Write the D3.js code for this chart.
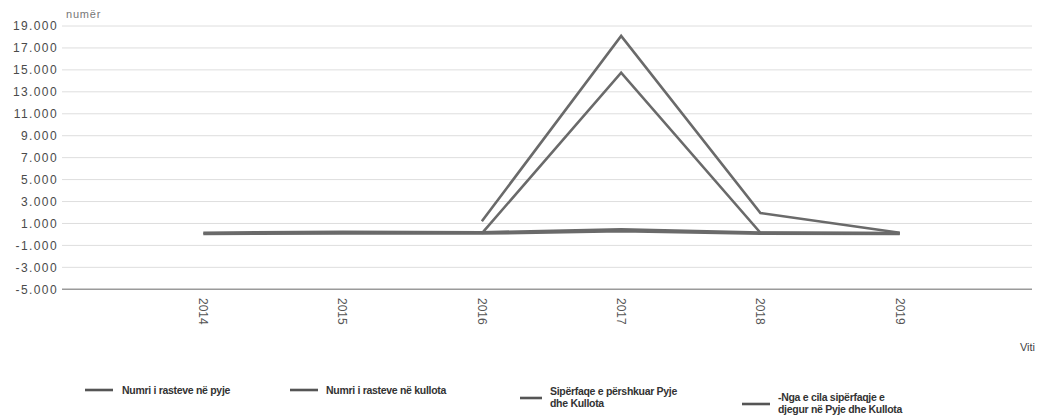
<!DOCTYPE html>
<html><head><meta charset="utf-8">
<script src="https://cdn.jsdelivr.net/npm/d3@7/dist/d3.min.js"></script>
<style>
html,body{margin:0;padding:0;background:#fff;}
svg{display:block;font-family:"Liberation Sans",Arial,sans-serif;}
</style></head>
<body>
<svg id="c" width="1042" height="418"></svg>
<script>
const years = [2014, 2015, 2016, 2017, 2018, 2019];
const rastePyje = [150, 250, 200, 480, 180, 120];
const rasteKullota = [40, 100, 80, 300, 60, 40];
const siperfaqe = [null, null, 1200, 18100, 1950, 150];
const djegur = [null, null, 100, 14750, 150, 100];
const yTicks = [-5000, -3000, -1000, 1000, 3000, 5000, 7000, 9000, 11000, 13000, 15000, 17000, 19000];
const seriesNames = ["Numri i rasteve në pyje", "Numri i rasteve në kullota", "Sipërfaqe e përshkuar Pyje", "-Nga e cila sipërfaqje e"];
const seriesNames2 = ["", "", "dhe Kullota", "djegur në Pyje dhe Kullota"];

const svg = d3.select("#c");
const x = d3.scaleLinear().domain([2013, 2020]).range([64, 1039]);
const y = d3.scaleLinear().domain([-5000, 19000]).range([289.3, 26]);
const loc = d3.formatLocale({decimal: ",", thousands: ".", grouping: [3], currency: ["", ""], minus: "-"});
const fmt = loc.format(",.0f");

const gx0 = 62, gx1 = 1032;
// gridlines
svg.append("g").selectAll("line").data(yTicks).join("line")
  .attr("x1", gx0).attr("x2", gx1)
  .attr("y1", d => y(d)).attr("y2", d => y(d))
  .attr("stroke", d => d === -5000 ? "#9a9a9a" : "#dedede")
  .attr("stroke-width", d => d === -5000 ? 1.5 : 1);

// y labels
svg.append("g").selectAll("text").data(yTicks).join("text")
  .attr("x", 58).attr("y", d => y(d)).attr("dy", "0.35em")
  .attr("text-anchor", "end").attr("font-size", 12).attr("fill", "#4a4a4a")
  .attr("letter-spacing", "1.4")
  .text(d => fmt(d));

svg.append("text").attr("x", 66).attr("y", 18).attr("font-size", 11)
  .attr("letter-spacing", "0.8").attr("fill", "#777").text("numër");

// x labels rotated
svg.append("g").selectAll("text").data(years).join("text")
  .attr("transform", d => `translate(${x(d)},298) rotate(90)`)
  .attr("dy", "0.35em").attr("font-size", 12).attr("fill", "#555")
  .text(d => d);

svg.append("text").attr("x", 1035).attr("y", 351).attr("text-anchor", "end")
  .attr("font-size", 11).attr("fill", "#444").text("Viti");

const line = d3.line().defined(d => d.v !== null).x(d => x(d.year)).y(d => y(d.v));
const all = [rastePyje, rasteKullota, siperfaqe, djegur];
all.forEach((s, i) => {
  svg.append("path")
    .datum(years.map((yr, j) => ({year: yr, v: s[j]})))
    .attr("d", line).attr("fill", "none")
    .attr("stroke", "#6a6a6a").attr("stroke-width", 2.6)
    .attr("stroke-linejoin", "miter");
});

// legend
const leg = [
  {sx: 85, sy: 390, tx: 122, ty: 390},
  {sx: 290, sy: 390, tx: 326, ty: 390},
  {sx: 520, sy: 398, tx: 550, ty: 391},
  {sx: 742, sy: 404, tx: 778, ty: 397}
];
leg.forEach((l, i) => {
  svg.append("line").attr("x1", l.sx).attr("x2", l.sx + (i === 2 ? 22 : 28))
    .attr("y1", l.sy).attr("y2", l.sy).attr("stroke", "#555").attr("stroke-width", 2.6);
  const t = svg.append("text").attr("x", l.tx).attr("y", l.ty).attr("dy", "0.35em")
    .attr("font-size", 10.5).attr("font-weight", "bold").attr("fill", "#333")
    .attr("letter-spacing", "-0.3");
  t.append("tspan").attr("x", l.tx).text(seriesNames[i]);
  if (seriesNames2[i]) t.append("tspan").attr("x", l.tx).attr("dy", "1.15em").text(seriesNames2[i]);
});
</script>
</body></html>
